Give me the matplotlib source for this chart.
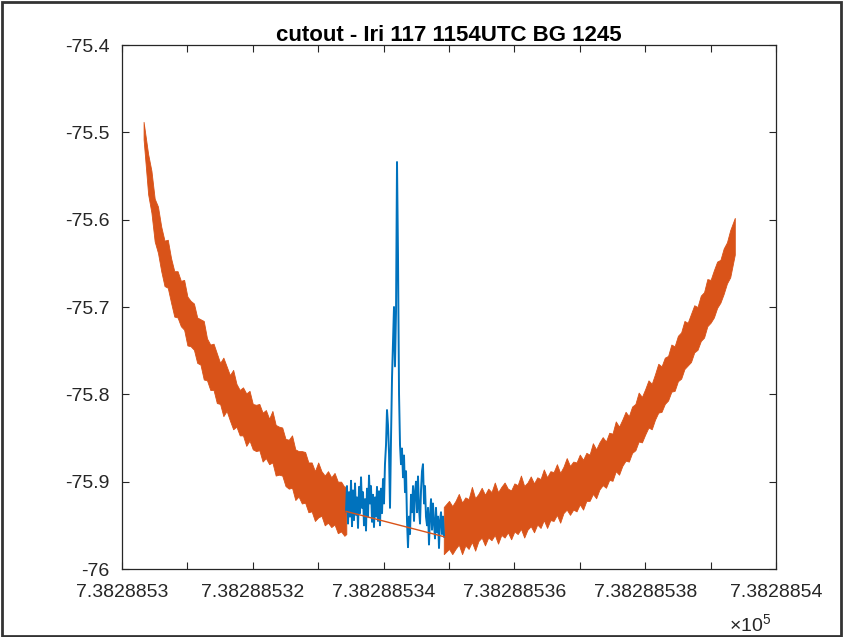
import numpy as np
import matplotlib
matplotlib.use("Agg")
from matplotlib import pyplot as plt
from matplotlib.patches import Rectangle

plt.rcParams['font.family'] = ['Liberation Sans', 'DejaVu Sans']
plt.rcParams['mathtext.fontset'] = 'custom'
plt.rcParams['mathtext.rm'] = 'Liberation Sans'

# time axis is a datenum, times stored as offsets from this base
t_base = 738288.53

# orange trace, left part (before the cutout): centre of the noisy band and its spread up/down
left_t = [0.00033, 0.00040, 0.00045, 0.00050, 0.00055, 0.00060, 0.00065, 0.00070, 0.00075, 0.00080,
          0.00085, 0.00090, 0.00095, 0.00100, 0.00105, 0.00110, 0.00115, 0.00120, 0.00125, 0.00130,
          0.00135, 0.00140, 0.00145, 0.00150, 0.00155, 0.00160, 0.00165, 0.00170, 0.00175, 0.00180,
          0.00185, 0.00190, 0.00195, 0.00200, 0.00205, 0.00210, 0.00215, 0.00220, 0.00225, 0.00230,
          0.00235, 0.00240, 0.00245, 0.00250, 0.00255, 0.00260, 0.00265, 0.00270, 0.00275, 0.00280,
          0.00285, 0.00290, 0.00295, 0.00300, 0.00305, 0.00310, 0.00315, 0.00320, 0.00325, 0.00330,
          0.00335, 0.00340, 0.00343]
left_mid = [-75.500, -75.547, -75.572, -75.596, -75.615, -75.632, -75.645, -75.656, -75.669, -75.681,
            -75.688, -75.694, -75.703, -75.711, -75.719, -75.727, -75.734, -75.741, -75.751, -75.760,
            -75.766, -75.772, -75.779, -75.785, -75.791, -75.796, -75.802, -75.808, -75.813, -75.817,
            -75.822, -75.826, -75.830, -75.834, -75.838, -75.842, -75.845, -75.847, -75.850, -75.854,
            -75.860, -75.865, -75.870, -75.874, -75.879, -75.883, -75.887, -75.891, -75.895, -75.899,
            -75.903, -75.907, -75.910, -75.912, -75.915, -75.917, -75.919, -75.921, -75.923, -75.925,
            -75.928, -75.930, -75.932]
left_up = [0.012, 0.022, 0.028, 0.020, 0.030, 0.024, 0.021, 0.033, 0.025, 0.022,
           0.029, 0.024, 0.034, 0.023, 0.026, 0.031, 0.022, 0.027, 0.035, 0.024,
           0.023, 0.030, 0.026, 0.021, 0.033, 0.028, 0.024, 0.036, 0.025, 0.022,
           0.030, 0.027, 0.034, 0.023, 0.026, 0.031, 0.024, 0.029, 0.022, 0.035,
           0.025, 0.028, 0.032, 0.023, 0.027, 0.036, 0.024, 0.026, 0.030, 0.033,
           0.025, 0.029, 0.022, 0.034, 0.027, 0.024, 0.031, 0.026, 0.033, 0.025,
           0.028, 0.024, 0.027]
left_down = [0.008, 0.024, 0.020, 0.029, 0.023, 0.027, 0.031, 0.022, 0.026, 0.030,
             0.024, 0.028, 0.023, 0.033, 0.026, 0.022, 0.030, 0.025, 0.032, 0.024,
             0.029, 0.023, 0.031, 0.026, 0.034, 0.023, 0.028, 0.032, 0.024, 0.030,
             0.025, 0.033, 0.023, 0.029, 0.027, 0.022, 0.032, 0.026, 0.030, 0.024,
             0.033, 0.027, 0.023, 0.031, 0.029, 0.024, 0.034, 0.026, 0.030, 0.025,
             0.032, 0.027, 0.035, 0.029, 0.024, 0.033, 0.028, 0.031, 0.026, 0.034,
             0.029, 0.032, 0.028]

# orange trace, right part (after the cutout)
right_t = [0.00492, 0.00500, 0.00505, 0.00510, 0.00515, 0.00520, 0.00525, 0.00530, 0.00535, 0.00540,
           0.00545, 0.00550, 0.00555, 0.00560, 0.00565, 0.00570, 0.00575, 0.00580, 0.00585, 0.00590,
           0.00595, 0.00600, 0.00605, 0.00610, 0.00615, 0.00620, 0.00625, 0.00630, 0.00635, 0.00640,
           0.00645, 0.00650, 0.00655, 0.00660, 0.00665, 0.00670, 0.00675, 0.00680, 0.00685, 0.00690,
           0.00695, 0.00700, 0.00705, 0.00710, 0.00715, 0.00720, 0.00725, 0.00730, 0.00735, 0.00740,
           0.00745, 0.00750, 0.00755, 0.00760, 0.00765, 0.00770, 0.00775, 0.00780, 0.00785, 0.00790,
           0.00795, 0.00800, 0.00805, 0.00810, 0.00815, 0.00820, 0.00825, 0.00830, 0.00835, 0.00840,
           0.00845, 0.00850, 0.00855, 0.00860, 0.00865, 0.00870, 0.00875, 0.00880, 0.00885, 0.00890,
           0.00895, 0.00900, 0.00905, 0.00910, 0.00915, 0.00920, 0.00925, 0.00930, 0.00937]
right_mid = [-75.955, -75.954, -75.952, -75.951, -75.950, -75.949, -75.948, -75.947, -75.945, -75.943,
             -75.942, -75.941, -75.940, -75.939, -75.938, -75.938, -75.936, -75.935, -75.934, -75.934,
             -75.933, -75.932, -75.931, -75.931, -75.930, -75.929, -75.927, -75.926, -75.924, -75.923,
             -75.921, -75.920, -75.918, -75.916, -75.914, -75.913, -75.911, -75.909, -75.907, -75.906,
             -75.904, -75.902, -75.899, -75.897, -75.894, -75.891, -75.887, -75.883, -75.880, -75.877,
             -75.873, -75.870, -75.865, -75.861, -75.856, -75.852, -75.847, -75.842, -75.836, -75.831,
             -75.826, -75.821, -75.815, -75.810, -75.803, -75.797, -75.791, -75.786, -75.780, -75.774,
             -75.767, -75.760, -75.754, -75.748, -75.741, -75.734, -75.728, -75.722, -75.714, -75.707,
             -75.699, -75.692, -75.684, -75.677, -75.668, -75.660, -75.650, -75.640, -75.622]
right_up = [0.026, 0.032, 0.024, 0.029, 0.036, 0.025, 0.030, 0.027, 0.039, 0.024,
            0.028, 0.034, 0.025, 0.031, 0.026, 0.037, 0.024, 0.029, 0.033, 0.026,
            0.023, 0.030, 0.027, 0.038, 0.025, 0.028, 0.033, 0.024, 0.029, 0.026,
            0.035, 0.025, 0.030, 0.027, 0.034, 0.023, 0.028, 0.036, 0.025, 0.029,
            0.026, 0.033, 0.024, 0.030, 0.025, 0.035, 0.024, 0.028, 0.031, 0.023,
            0.029, 0.025, 0.034, 0.024, 0.027, 0.032, 0.022, 0.028, 0.025, 0.033,
            0.023, 0.027, 0.031, 0.022, 0.026, 0.032, 0.023, 0.028, 0.024, 0.031,
            0.022, 0.027, 0.025, 0.032, 0.023, 0.026, 0.030, 0.022, 0.027, 0.024,
            0.031, 0.023, 0.026, 0.029, 0.022, 0.027, 0.024, 0.028, 0.024]
right_down = [0.028, 0.023, 0.031, 0.026, 0.022, 0.034, 0.025, 0.030, 0.024, 0.036,
              0.026, 0.023, 0.033, 0.025, 0.029, 0.023, 0.035, 0.026, 0.030, 0.024,
              0.033, 0.025, 0.029, 0.023, 0.034, 0.026, 0.024, 0.032, 0.025, 0.030,
              0.023, 0.033, 0.026, 0.029, 0.024, 0.034, 0.025, 0.023, 0.031, 0.026,
              0.030, 0.024, 0.033, 0.025, 0.028, 0.023, 0.032, 0.026, 0.024, 0.030,
              0.025, 0.029, 0.023, 0.031, 0.026, 0.024, 0.030, 0.025, 0.028, 0.023,
              0.029, 0.025, 0.023, 0.030, 0.026, 0.024, 0.029, 0.025, 0.027, 0.023,
              0.029, 0.025, 0.028, 0.023, 0.026, 0.029, 0.024, 0.027, 0.025, 0.028,
              0.023, 0.026, 0.028, 0.024, 0.027, 0.025, 0.023, 0.026, 0.018]

# straight orange segment bridging the cutout
gap_t = [0.003425, 0.004924]
gap_v = [-75.934, -75.963]

# blue cutout signal
cut_t = [0.003425, 0.003440, 0.003456, 0.003471, 0.003486, 0.003502, 0.003517, 0.003532, 0.003548, 0.003563,
         0.003578, 0.003593, 0.003609, 0.003624, 0.003639, 0.003655, 0.003670, 0.003685, 0.003700, 0.003716,
         0.003731, 0.003746, 0.003762, 0.003777, 0.003792, 0.003807, 0.003823, 0.003838, 0.003853, 0.003869,
         0.003884, 0.003899, 0.003914, 0.003930, 0.003945, 0.003960, 0.003976, 0.003991, 0.004006, 0.004021,
         0.004037, 0.004052, 0.004067, 0.004083, 0.004098, 0.004113, 0.004129, 0.004144, 0.004159, 0.004174,
         0.004190, 0.004205, 0.004220, 0.004236, 0.004251, 0.004266, 0.004281, 0.004297, 0.004312, 0.004327,
         0.004343, 0.004358, 0.004373, 0.004388, 0.004404, 0.004419, 0.004434, 0.004450, 0.004465, 0.004480,
         0.004496, 0.004511, 0.004526, 0.004541, 0.004557, 0.004572, 0.004587, 0.004602, 0.004618, 0.004633,
         0.004648, 0.004664, 0.004679, 0.004694, 0.004709, 0.004725, 0.004740, 0.004755, 0.004771, 0.004786,
         0.004801, 0.004817, 0.004832, 0.004847, 0.004862, 0.004878, 0.004893, 0.004908, 0.004924]
cut_v = [-75.934, -75.905, -75.948, -75.912, -75.940, -75.899, -75.951, -75.910, -75.944, -75.902,
         -75.938, -75.918, -75.953, -75.906, -75.936, -75.895, -75.930, -75.912, -75.950, -75.920,
         -75.956, -75.908, -75.940, -75.893, -75.925, -75.905, -75.946, -75.915, -75.952, -75.918,
         -75.940, -75.906, -75.945, -75.911, -75.950, -75.908, -75.936, -75.897, -75.925, -75.880,
         -75.858, -75.818, -75.835, -75.868, -75.930, -75.852, -75.780, -75.740, -75.700, -75.768,
         -75.705, -75.534, -75.640, -75.800, -75.858, -75.880, -75.862, -75.895, -75.870, -75.912,
         -75.888, -75.945, -75.975, -75.940, -75.960, -75.915, -75.935, -75.905, -75.945, -75.912,
         -75.900, -75.935, -75.894, -75.930, -75.948, -75.910, -75.888, -75.880, -75.925, -75.905,
         -75.940, -75.950, -75.930, -75.972, -75.940, -75.920, -75.955, -75.925, -75.948, -75.965,
         -75.930, -75.958, -75.940, -75.976, -75.945, -75.935, -75.960, -75.940, -75.963]

x_ticks = [0.000, 0.001, 0.002, 0.003, 0.004, 0.005, 0.006, 0.007, 0.008, 0.009, 0.010]
x_tick_labels = ['7.3828853', '', '7.38288532', '', '7.38288534', '', '7.38288536', '',
                 '7.38288538', '', '7.3828854']
y_ticks = [-76, -75.9, -75.8, -75.7, -75.6, -75.5, -75.4]
y_tick_labels = ['-76', '-75.9', '-75.8', '-75.7', '-75.6', '-75.5', '-75.4']

blue = '#0072BD'
orange = '#D95319'
axis_gray = '#262626'

fig = plt.figure(figsize=(8.43, 6.37), dpi=100)
ax = fig.add_axes([122 / 843, 1 - 569 / 637, 654 / 843, 524 / 637])

# band edges of the orange trace
left_hi = np.array(left_mid) + np.array(left_up)
left_lo = np.array(left_mid) - np.array(left_down)
right_hi = np.array(right_mid) + np.array(right_up)
right_lo = np.array(right_mid) - np.array(right_down)

# cutout first, the orange series is drawn on top of it
ax.plot(t_base + np.array(cut_t), cut_v, color=blue, lw=1.4)
ax.fill_between(t_base + np.array(left_t), left_lo, left_hi, color=orange, lw=0.6)
ax.fill_between(t_base + np.array(right_t), right_lo, right_hi, color=orange, lw=0.6)
ax.plot(t_base + np.array(gap_t), gap_v, color=orange, lw=1.0)

ax.set_xlim(t_base, t_base + 0.010)
ax.set_ylim(-76, -75.4)
ax.set_xticks(t_base + np.array(x_ticks))
ax.set_xticklabels(x_tick_labels)
ax.set_yticks(y_ticks)
ax.set_yticklabels(y_tick_labels)

ax.tick_params(direction='in', length=5, width=0.8, top=True, right=True,
               labelsize=14, colors=axis_gray)
ax.tick_params(axis='x', pad=11)
ax.tick_params(axis='y', pad=9)
for side in ax.spines.values():
    side.set_color(axis_gray)
    side.set_linewidth(0.9)

ax.set_title('cutout - Iri 117 1154UTC BG 1245', fontsize=16, fontweight='bold', pad=3)
fig.text(771 / 843, 1 - 624 / 637, r'$\times\mathregular{10^5}$', ha='right', va='center',
         fontsize=14, color=axis_gray)

# frame around the whole picture
fig.patches.append(Rectangle((0.002, 0.002), 0.996, 0.995, transform=fig.transFigure,
                             fill=False, edgecolor='#333333', lw=2))

fig.savefig('out.png', dpi=100)
